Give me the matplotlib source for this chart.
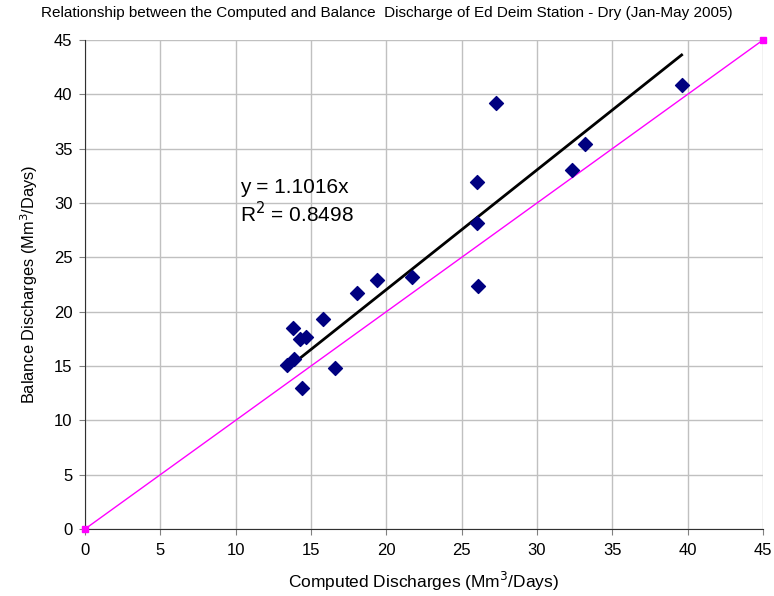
import matplotlib
matplotlib.use("Agg")
import matplotlib.pyplot as plt
import numpy as np

plt.rcParams['font.family'] = ['Liberation Sans', 'DejaVu Sans']

computed = [13.4, 13.9, 13.8, 14.3, 14.7, 14.4, 15.8, 16.6, 18.05, 19.4,
            21.7, 26.0, 26.1, 26.0, 27.3, 32.3, 33.2, 39.6]
balance = [15.1, 15.6, 18.5, 17.5, 17.7, 13.0, 19.3, 14.8, 21.7, 22.9,
           23.2, 28.2, 22.4, 31.9, 39.2, 33.0, 35.4, 40.9]
slope = 1.1016
r2 = 0.8498
line_11 = [0, 45]
xticks = list(range(0, 46, 5))
yticks = list(range(0, 46, 5))

fig = plt.figure(figsize=(7.74, 5.96), dpi=100)
ax = fig.add_axes([85/774, 67/596, 678/774, 489/596])

ax.set_xlim(0, 45)
ax.set_ylim(0, 45)
ax.set_xticks(xticks)
ax.set_yticks(yticks)
ax.grid(True, color='#c0c0c0', linewidth=1)
ax.set_axisbelow(True)
for s in ['top', 'right']:
    ax.spines[s].set_visible(False)
for s in ['left', 'bottom']:
    ax.spines[s].set_color('#303030')
ax.tick_params(direction='out', length=4, color='#808080', labelsize=12)
ax.tick_params(axis='x', pad=6)
ax.tick_params(axis='y', pad=5)

ax.plot(line_11, line_11, color='#ff00ff', linewidth=1, marker='s',
        markersize=5, clip_on=False, zorder=3)

xs = np.array([min(computed), max(computed)])
ax.plot(xs, slope * xs, color='black', linewidth=2, zorder=4)

ax.scatter(computed, balance, marker='D', s=50, color='#000080', zorder=5)

ax.text(10.3, 31.4, f'y = {slope}x', fontsize=15, va='center')
ax.text(10.3, 29.0, f'R$^2$ = {r2}', fontsize=15, va='center')

ax.set_xlabel('Computed Discharges (Mm$^3$/Days)', fontsize=12.5, labelpad=9)
ax.set_ylabel('Balance Discharges (Mm$^3$/Days)', fontsize=11.8, labelpad=10)
fig.text(0.5, 0.978, 'Relationship between the Computed and Balance  Discharge of Ed Deim Station - Dry (Jan-May 2005)',
         ha='center', va='center', fontsize=11)

fig.savefig('out.png', dpi=100)
